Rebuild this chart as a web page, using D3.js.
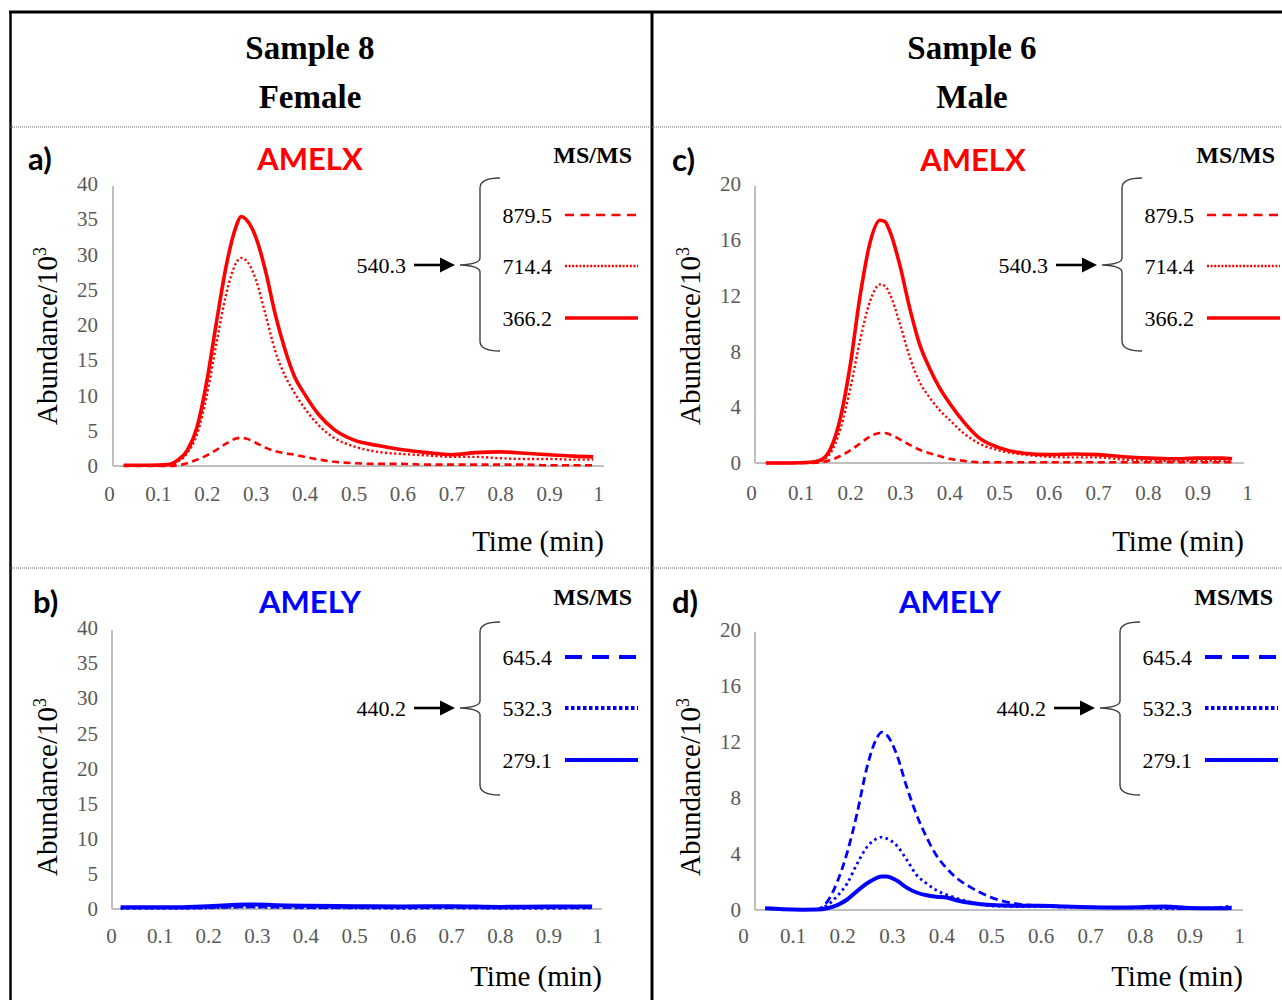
<!DOCTYPE html>
<html>
<head>
<meta charset="utf-8">
<script src="https://cdnjs.cloudflare.com/ajax/libs/d3/7.8.5/d3.min.js"></script>
<style>
  body { margin: 0; background: #fff; }
  svg { display: block; }
  .tick text { font-family: "Liberation Serif", "Times New Roman", serif; font-size: 21px; fill: #595959; }
</style>
</head>
<body>
<div id="chart"></div>
<script>
// ---- data (abundance in 10^3, time in min) ----
const timeA = [0.03, 0.08, 0.12, 0.14, 0.16, 0.18, 0.2, 0.22, 0.24, 0.26, 0.27, 0.28, 0.3, 0.32, 0.34, 0.36, 0.38, 0.4, 0.43, 0.46, 0.5, 0.55, 0.6, 0.65, 0.7, 0.75, 0.8, 0.85, 0.9, 0.95, 0.99];
const a879 = [0, 0, 0, 0.1, 0.4, 0.9, 1.5, 2.3, 3.2, 3.9, 4.0, 3.9, 3.3, 2.6, 2.1, 1.8, 1.6, 1.3, 0.9, 0.6, 0.4, 0.3, 0.3, 0.2, 0.2, 0.2, 0.2, 0.2, 0.1, 0.1, 0.1];
const a714 = [0.05, 0.05, 0.1, 0.6, 1.8, 4.5, 10, 17.5, 24.5, 28.8, 29.5, 29.2, 26.5, 21.5, 16.3, 12.8, 10.3, 8.2, 5.7, 4.0, 2.8, 2.0, 1.7, 1.5, 1.3, 1.3, 1.1, 1.0, 1.0, 0.9, 0.9];
const a366 = [0.1, 0.1, 0.2, 0.8, 2.2, 5.5, 12, 20.5, 28.5, 34, 35.4, 35, 32.5, 27.7, 21.5, 16.5, 12.6, 10.2, 7.2, 5.2, 3.7, 2.9, 2.3, 1.9, 1.6, 1.9, 2.0, 1.8, 1.6, 1.4, 1.3];

const timeC = [0.03, 0.08, 0.12, 0.14, 0.16, 0.18, 0.2, 0.22, 0.24, 0.26, 0.27, 0.28, 0.3, 0.32, 0.34, 0.36, 0.38, 0.4, 0.43, 0.46, 0.5, 0.55, 0.6, 0.65, 0.7, 0.75, 0.8, 0.85, 0.9, 0.95, 0.97];
const c879 = [0, 0, 0, 0.05, 0.2, 0.5, 0.9, 1.4, 1.9, 2.15, 2.15, 2.05, 1.7, 1.3, 0.95, 0.7, 0.5, 0.3, 0.15, 0.05, 0.05, 0.05, 0.05, 0.05, 0.05, 0.05, 0.05, 0.05, 0.05, 0.05, 0.05];
const c714 = [0, 0, 0.05, 0.15, 0.7, 2.4, 5.3, 8.8, 11.6, 12.8, 12.7, 12.1, 10.0, 7.6, 5.8, 4.7, 3.8, 3.1, 2.1, 1.4, 0.9, 0.6, 0.45, 0.4, 0.4, 0.25, 0.2, 0.15, 0.15, 0.15, 0.15];
const c366 = [0, 0, 0.05, 0.2, 1.0, 3.2, 7.0, 12, 15.8, 17.4, 17.3, 16.6, 14.2, 11.1, 8.5, 6.8, 5.4, 4.3, 2.9, 1.8, 1.1, 0.7, 0.6, 0.65, 0.6, 0.45, 0.35, 0.3, 0.35, 0.35, 0.3];

const timeB = [0.02, 0.08, 0.12, 0.16, 0.2, 0.24, 0.28, 0.32, 0.36, 0.4, 0.5, 0.6, 0.7, 0.8, 0.9, 0.99];
const b645 = [0.15, 0.15, 0.15, 0.15, 0.2, 0.25, 0.3, 0.3, 0.25, 0.2, 0.2, 0.2, 0.2, 0.15, 0.2, 0.2];
const b532 = [0.1, 0.1, 0.1, 0.1, 0.15, 0.25, 0.3, 0.25, 0.2, 0.15, 0.15, 0.1, 0.15, 0.1, 0.1, 0.15];
const b279 = [0.25, 0.25, 0.25, 0.3, 0.4, 0.55, 0.65, 0.6, 0.5, 0.45, 0.4, 0.35, 0.4, 0.3, 0.35, 0.35];

const timeD = [0.045, 0.08, 0.12, 0.15, 0.17, 0.19, 0.21, 0.23, 0.25, 0.27, 0.28, 0.29, 0.31, 0.33, 0.35, 0.37, 0.39, 0.41, 0.43, 0.46, 0.5, 0.55, 0.6, 0.65, 0.7, 0.75, 0.8, 0.85, 0.9, 0.95, 0.985];
const d645 = [0.1, 0.05, 0.02, 0.05, 0.6, 2.0, 4.1, 6.9, 10.2, 12.3, 12.7, 12.5, 11.1, 8.8, 6.8, 5.2, 3.9, 3.0, 2.3, 1.6, 0.9, 0.45, 0.3, 0.25, 0.2, 0.15, 0.15, 0.15, 0.1, 0.15, 0.2];
const d532 = [0.1, 0.05, 0.02, 0.05, 0.35, 1.0, 1.9, 3.3, 4.5, 5.1, 5.2, 5.1, 4.6, 3.6, 2.5, 1.9, 1.4, 1.1, 0.85, 0.55, 0.3, 0.25, 0.25, 0.2, 0.2, 0.15, 0.15, 0.1, 0.1, 0.15, 0.3];
const d279 = [0.12, 0.05, 0.02, 0.03, 0.12, 0.35, 0.75, 1.35, 1.9, 2.3, 2.4, 2.4, 2.1, 1.6, 1.25, 1.05, 0.95, 0.9, 0.7, 0.5, 0.35, 0.3, 0.3, 0.25, 0.2, 0.18, 0.2, 0.25, 0.15, 0.12, 0.15];

const xTicks = [0, 0.1, 0.2, 0.3, 0.4, 0.5, 0.6, 0.7, 0.8, 0.9, 1];
const yTicks40 = [0, 5, 10, 15, 20, 25, 30, 35, 40];
const yTicks20 = [0, 4, 8, 12, 16, 20];

const amelxIons = ["879.5", "714.4", "366.2"];
const amelyIons = ["645.4", "532.3", "279.1"];

const RED = "#ff0000", BLUE = "#0000ff";
const serif = '"Liberation Serif", "Times New Roman", serif';
const sans = 'Lato, "Open Sans", sans-serif';

const width = 1282, height = 1000;
const svg = d3.select("#chart").append("svg")
  .attr("width", width)
  .attr("height", height);

// frame
svg.append("line").attr("x1", 9).attr("x2", width).attr("y1", 12).attr("y2", 12)
  .attr("stroke", "#000").attr("stroke-width", 3);
svg.append("line").attr("x1", 10.5).attr("x2", 10.5).attr("y1", 11).attr("y2", height)
  .attr("stroke", "#000").attr("stroke-width", 2.5);
svg.append("line").attr("x1", 652).attr("x2", 652).attr("y1", 11).attr("y2", height)
  .attr("stroke", "#000").attr("stroke-width", 3);
[127, 568].forEach(yy => {
  svg.append("line").attr("x1", 10).attr("x2", width).attr("y1", yy).attr("y2", yy)
    .attr("stroke", "#666").attr("stroke-width", 1).attr("stroke-dasharray", "1,1");
});

// column headers
const headers = [
  { cx: 310, lines: ["Sample 8", "Female"] },
  { cx: 972, lines: ["Sample 6", "Male"] }
];
headers.forEach(h => {
  h.lines.forEach((t, i) => {
    svg.append("text").attr("x", h.cx).attr("y", 59 + i * 49)
      .attr("text-anchor", "middle")
      .style("font-family", serif).style("font-weight", "bold").style("font-size", "33px")
      .text(t);
  });
});

// panel layout
const panels = [
  { tag: "a)", gene: "AMELX", color: RED, time: timeA, series: [a879, a714, a366], ions: amelxIons, precursor: "540.3",
    x0: 109, x1: 598, left: 113, right: 604, y0: 466, yTop: 184, yMax: 40, yTicks: yTicks40, labelRight: 98, xLabelY: 493,
    tagX: 28, geneX: 310, msRight: 632, titleY: 170, msY: 163, timeY: 551, ylabX: 57, ylabY: 336,
    leg: { dx: 0, top: 178, mid: 265, bottom: 351, items: [215, 266, 318] } },
  { tag: "c)", gene: "AMELX", color: RED, time: timeC, series: [c879, c714, c366], ions: amelxIons, precursor: "540.3",
    x0: 751, x1: 1247, left: 755, right: 1244, y0: 463, yTop: 184, yMax: 20, yTicks: yTicks20, labelRight: 741, xLabelY: 492,
    tagX: 672, geneX: 973, msRight: 1275, titleY: 171, msY: 163, timeY: 551, ylabX: 700, ylabY: 336,
    leg: { dx: 642, top: 178, mid: 265, bottom: 351, items: [215, 266, 318] } },
  { tag: "b)", gene: "AMELY", color: BLUE, time: timeB, series: [b645, b532, b279], ions: amelyIons, precursor: "440.2",
    x0: 111, x1: 597, left: 112, right: 602, y0: 909, yTop: 628, yMax: 40, yTicks: yTicks40, labelRight: 98, xLabelY: 935,
    tagX: 33, geneX: 310, msRight: 632, titleY: 613, msY: 605, timeY: 986, ylabX: 57, ylabY: 787,
    leg: { dx: 0, top: 622, mid: 708, bottom: 795, items: [657, 708, 760] } },
  { tag: "d)", gene: "AMELY", color: BLUE, time: timeD, series: [d645, d532, d279], ions: amelyIons, precursor: "440.2",
    x0: 743, x1: 1239, left: 755, right: 1243, y0: 910, yTop: 630, yMax: 20, yTicks: yTicks20, labelRight: 741, xLabelY: 935,
    tagX: 672, geneX: 950, msRight: 1273, titleY: 613, msY: 605, timeY: 986, ylabX: 700, ylabY: 787,
    leg: { dx: 640, top: 622, mid: 708, bottom: 795, items: [657, 708, 760] } }
];

// line styles: dashed / dotted / solid
const redStyles = [
  { w: 2.6, dash: "7,4.5" },
  { w: 2.4, dash: "2.2,2.4" },
  { w: 3.6, dash: null }
];
const blueStyles = [
  { w: 2.8, dash: "8,4.5" },
  { w: 2.8, dash: "2.6,3.4" },
  { w: 4, dash: null }
];
const redLegend = [
  { w: 2.7, dash: "9,6.5" },
  { w: 2.6, dash: "2,1.6" },
  { w: 3.4, dash: null }
];
const blueLegend = [
  { w: 4, dash: "17,10" },
  { w: 4, dash: "3.5,2.5" },
  { w: 4, dash: null }
];

panels.forEach(p => draw(p));

function draw(p) {
  const g = svg.append("g");
  const x = d3.scaleLinear().domain([0, 1]).range([p.x0, p.x1]);
  const y = d3.scaleLinear().domain([0, p.yMax]).range([p.y0, p.yTop]);

  // axes
  const xAxis = d3.axisBottom(x).tickValues(xTicks).tickSize(0)
    .tickPadding(p.xLabelY - p.y0 - 7).tickFormat(d => String(d));
  g.append("g").attr("transform", `translate(0,${p.y0})`).call(xAxis)
    .call(s => s.select(".domain").remove());
  const yAxis = d3.axisLeft(y).tickValues(p.yTicks).tickSize(0)
    .tickPadding(p.left - p.labelRight);
  g.append("g").attr("transform", `translate(${p.left},0)`).call(yAxis)
    .call(s => s.select(".domain").remove());
  g.append("line").attr("x1", p.left).attr("x2", p.left).attr("y1", p.yTop + 2).attr("y2", p.y0)
    .attr("stroke", "#bfbfbf").attr("stroke-width", 2);
  g.append("line").attr("x1", p.left).attr("x2", p.right).attr("y1", p.y0).attr("y2", p.y0)
    .attr("stroke", "#bfbfbf").attr("stroke-width", 2);

  // curves
  const styles = p.color === RED ? redStyles : blueStyles;
  const line = d3.line().x(d => x(d[0])).y(d => y(d[1])).curve(d3.curveMonotoneX);
  p.series.forEach((vals, i) => {
    const pts = p.time.map((t, k) => [t, vals[k]]);
    g.append("path").datum(pts)
      .attr("d", line)
      .attr("fill", "none")
      .attr("stroke", p.color)
      .attr("stroke-width", styles[i].w)
      .attr("stroke-dasharray", styles[i].dash)
      .attr("stroke-linejoin", "round");
  });

  // titles
  g.append("text").attr("x", p.tagX).attr("y", p.titleY)
    .style("font-family", sans).style("font-weight", "bold").style("font-size", "31px")
    .text(p.tag);
  g.append("text").attr("x", p.geneX).attr("y", p.titleY).attr("text-anchor", "middle")
    .style("font-family", sans).style("font-weight", "bold").style("font-size", "31px")
    .attr("fill", p.color).text(p.gene);
  g.append("text").attr("x", p.msRight).attr("y", p.msY).attr("text-anchor", "end")
    .style("font-family", serif).style("font-weight", "bold").style("font-size", "24px")
    .text("MS/MS");
  g.append("text").attr("x", p.right).attr("y", p.timeY).attr("text-anchor", "end")
    .style("font-family", serif).style("font-size", "29px")
    .text("Time (min)");
  const yl = g.append("text")
    .attr("transform", `translate(${p.ylabX},${p.ylabY}) rotate(-90)`)
    .attr("text-anchor", "middle")
    .style("font-family", serif).style("font-size", "29px");
  yl.append("tspan").text("Abundance/10");
  yl.append("tspan").attr("dy", -11).style("font-size", "18px").text("3");

  // legend: precursor -> brace -> fragment ions
  const L = p.leg, dx = L.dx;
  const lg = g.append("g").attr("transform", `translate(${dx},0)`);
  const legStyles = p.color === RED ? redLegend : blueLegend;
  lg.append("text").attr("x", 406).attr("y", L.mid).attr("dy", "0.35em").attr("text-anchor", "end")
    .style("font-family", serif).style("font-size", "22px").text(p.precursor);
  lg.append("line").attr("x1", 414).attr("x2", 442).attr("y1", L.mid).attr("y2", L.mid)
    .attr("stroke", "#000").attr("stroke-width", 2.6);
  lg.append("path").attr("d", `M440,${L.mid - 7.5}L455,${L.mid}L440,${L.mid + 7.5}Z`).attr("fill", "#000");

  const bx = 480;
  const brace = `M500,${L.top} Q${bx},${L.top} ${bx},${L.top + 10} L${bx},${L.mid - 7} Q${bx},${L.mid - 1} 460,${L.mid}` +
    ` Q${bx},${L.mid + 1} ${bx},${L.mid + 7} L${bx},${L.bottom - 10} Q${bx},${L.bottom} 500,${L.bottom}`;
  lg.append("path").attr("d", brace).attr("fill", "none").attr("stroke", "#404040").attr("stroke-width", 1.4);

  p.ions.forEach((ion, i) => {
    const yy = L.items[i];
    lg.append("text").attr("x", 552).attr("y", yy).attr("dy", "0.35em").attr("text-anchor", "end")
      .style("font-family", serif).style("font-size", "22px").text(ion);
    lg.append("line").attr("x1", 565).attr("x2", 638).attr("y1", yy).attr("y2", yy)
      .attr("stroke", p.color).attr("stroke-width", legStyles[i].w)
      .attr("stroke-dasharray", legStyles[i].dash);
  });
}
</script>
</body>
</html>
